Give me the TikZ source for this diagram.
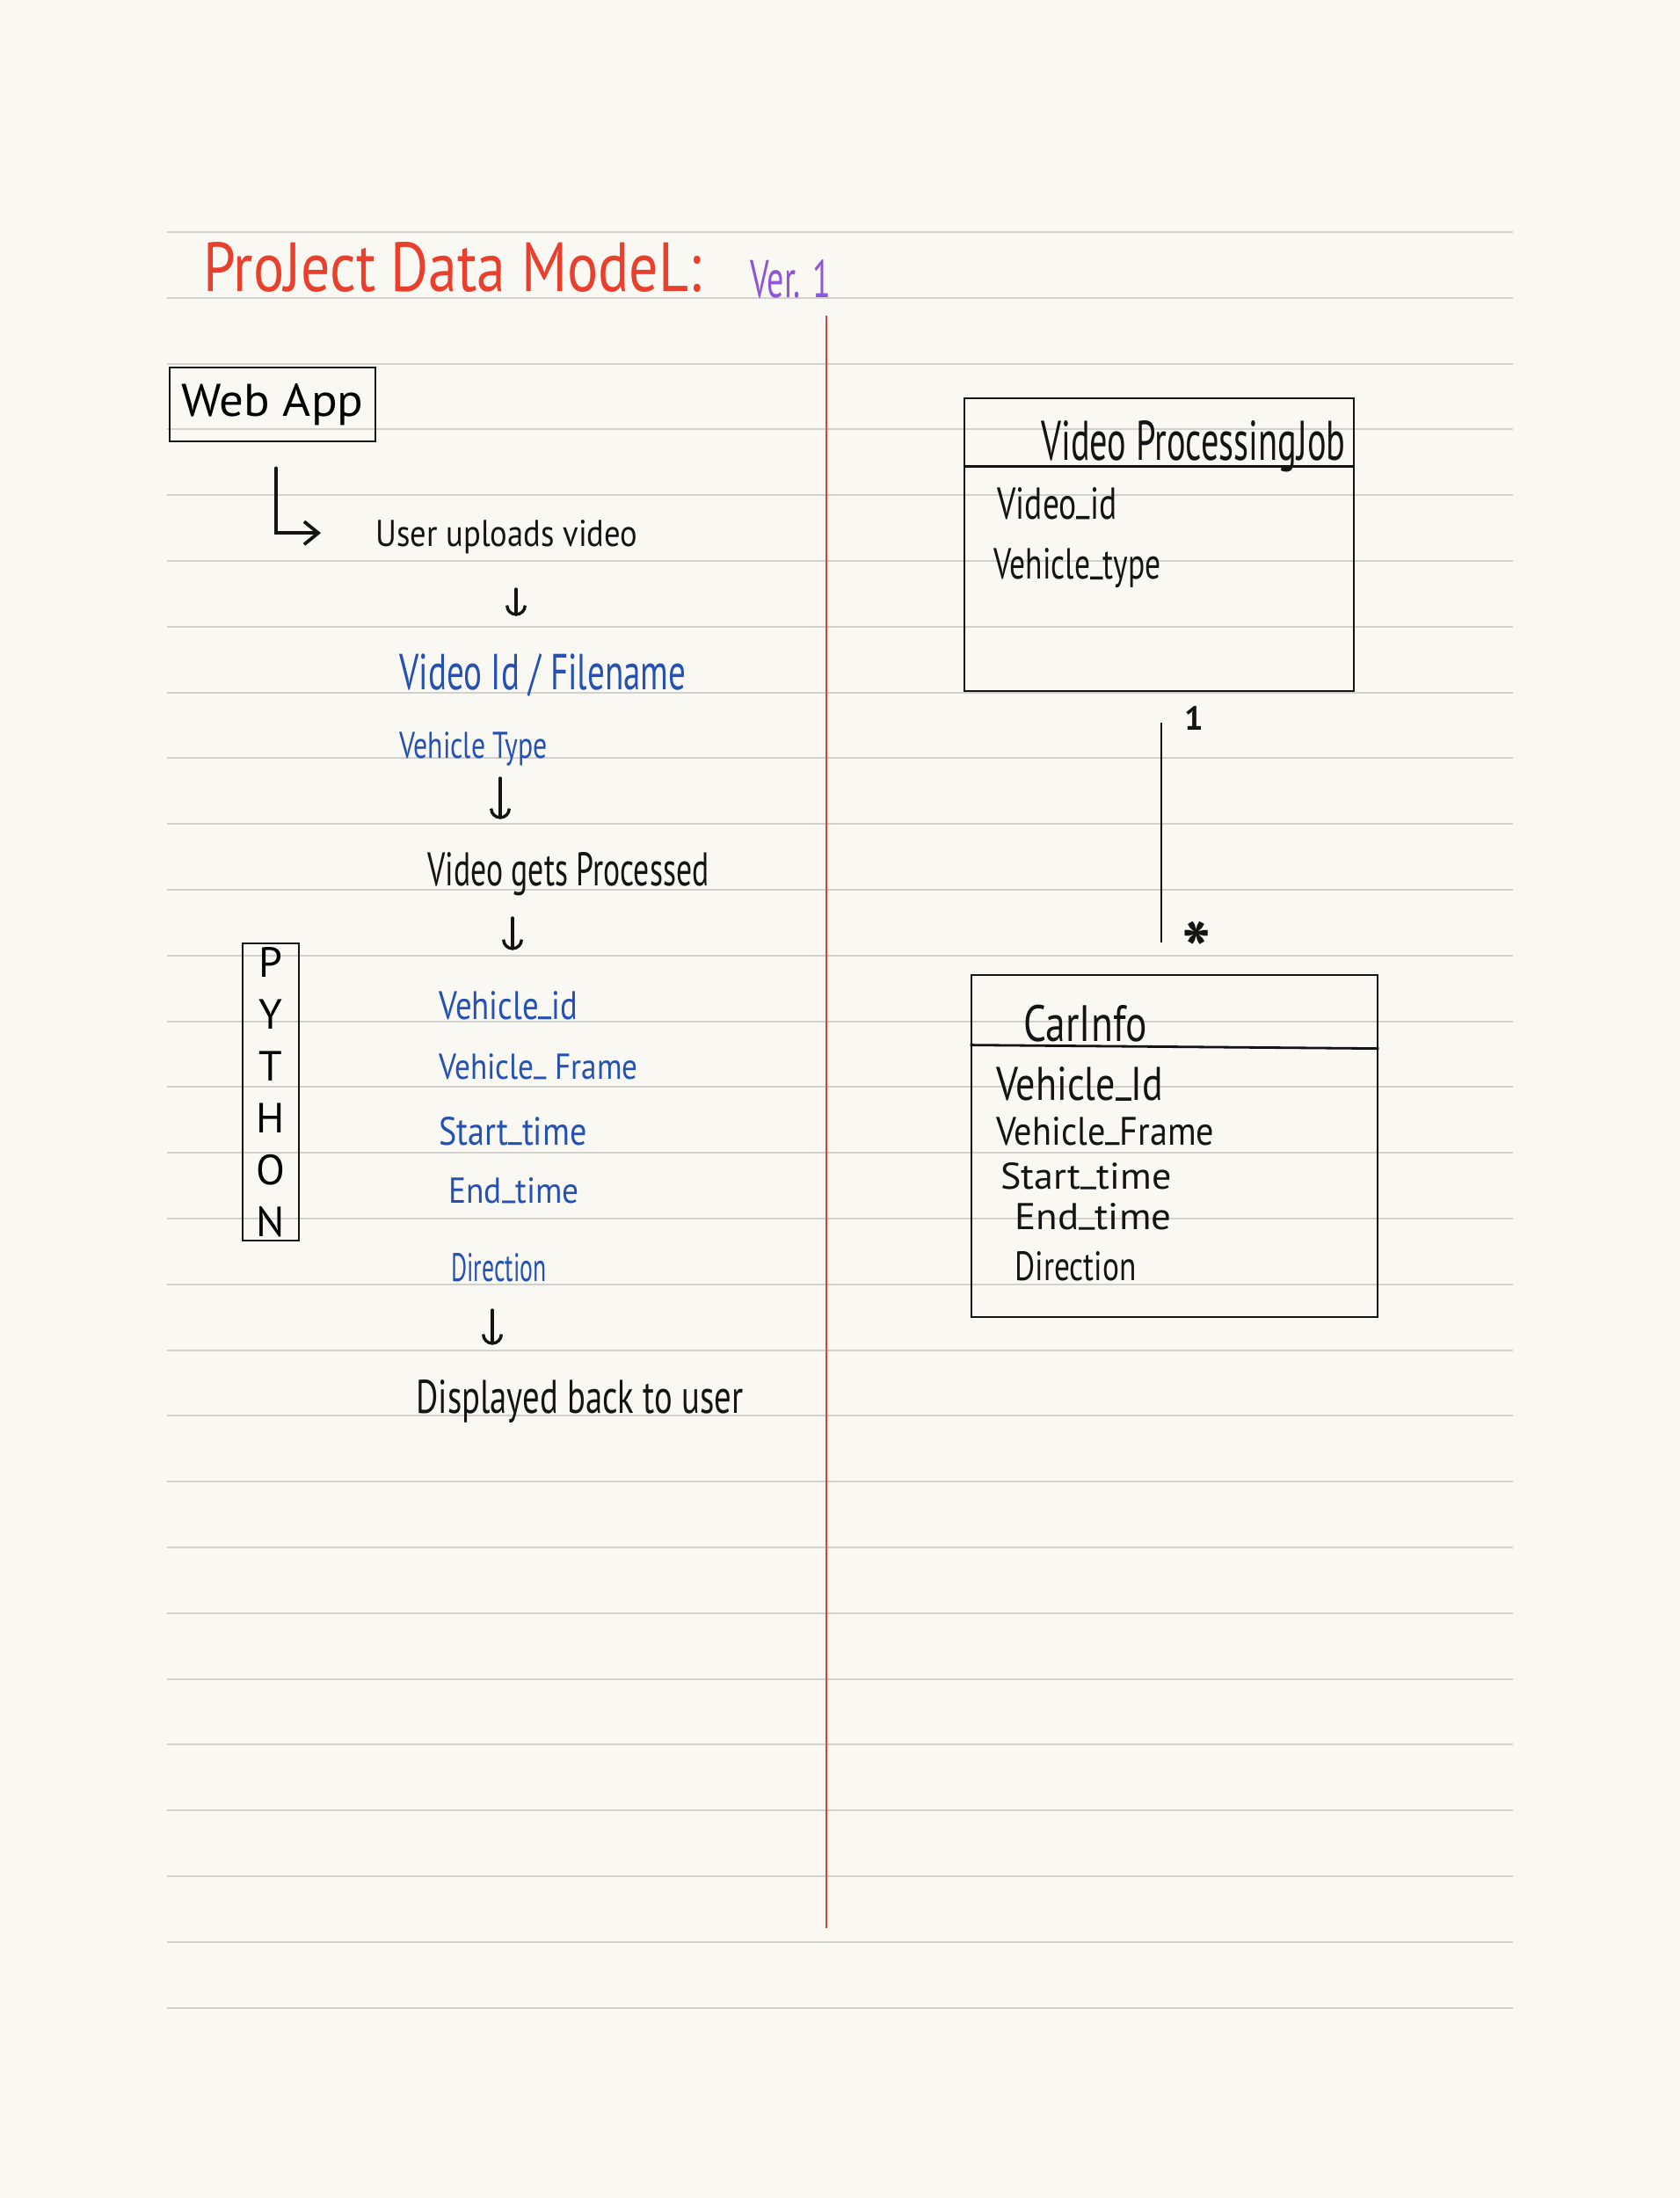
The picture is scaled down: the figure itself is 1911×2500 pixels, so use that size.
\documentclass[tikz,border=0pt]{standalone}
\usepackage{fontspec}
\setmainfont{PT Sans}
\usepackage{graphicx}
\usetikzlibrary{arrows.meta,calc}

\definecolor{paper}{HTML}{FAF8F3}
\definecolor{rulegray}{HTML}{D3D1CC}
\definecolor{marginred}{HTML}{D9473C}
\definecolor{ink}{HTML}{141414}
\definecolor{titlered}{HTML}{E8402D}
\definecolor{verpurple}{HTML}{8C58D8}
\definecolor{noteblue}{HTML}{2451B2}

% text squeezed into a given width and height (above the baseline)
\newcommand{\hw}[3]{\resizebox{#1}{#2}{#3}}
% underscore sitting close to the baseline
\newcommand{\us}{\raisebox{0.18em}{\_}}

\begin{document}
\begin{tikzpicture}[x=0.5pt,y=-0.5pt,
  txt/.style={inner sep=0pt, anchor=base west, text=ink},
  notetxt/.style={txt, text=noteblue},
  box/.style={draw=ink, line width=1.4pt, inner sep=0pt},
  flow/.style={draw=ink, line width=1.7pt, line cap=round,
    -{Arc Barb[length=6pt,width=12pt]}},
  lnk/.style={draw=ink, line width=1.4pt},
]
% paper
\fill[paper] (0,0) rectangle (1911,2500);
\useasboundingbox (0,0) rectangle (1911,2500);
\foreach \k in {0,...,27}
  \draw[rulegray, line width=1pt] (190,{264+74.8*\k}) -- (1721,{264+74.8*\k});
\draw[marginred, line width=1pt] (940,359) -- (940,2193);

% heading
\node[txt, text=titlered] (title) at (231,331) {\hw{283pt}{28pt}{ProJect Data ModeL:}};
\node[txt, text=verpurple] (ver) at (853,338) {\hw{46pt}{21.5pt}{Ver. 1}};

% left column: flow of the web app
\node[box, minimum width=117pt, minimum height=42pt] (webapp) at (310,460)
  {\hw{103.5pt}{18.5pt}{Web App}};

\node[txt] (upload) at (427,621) {\hw{149pt}{15pt}{User uploads video}};
\node[notetxt] (vidid) at (454,784) {\hw{163pt}{20.5pt}{Video Id / Filename}};
\node[notetxt] (vtype) at (454,862) {\hw{84pt}{15pt}{Vehicle Type}};
\node[txt] (processed) at (486,1007) {\hw{160pt}{19pt}{Video gets Processed}};
\node[notetxt] (vehid) at (499,1159) {\hw{79pt}{16pt}{Vehicle\us id}};
\node[notetxt] (vframe) at (499,1227) {\hw{113pt}{14.5pt}{Vehicle\us\ Frame}};
\node[notetxt] (vstart) at (499,1302) {\hw{84pt}{16pt}{Start\us time}};
\node[notetxt] (vend) at (510,1368) {\hw{74pt}{14.5pt}{End\us time}};
\node[notetxt] (vdir) at (513,1457) {\hw{54pt}{16pt}{Direction}};
\node[txt] (displayed) at (473,1607) {\hw{186pt}{19pt}{Displayed back to user}};

\node[box, minimum width=32pt, minimum height=169pt, align=center,
      font=\fontsize{24}{29.5}\selectfont] (python) at (308,1242)
  {P\\Y\\T\\H\\O\\N};

% arrows of the flow
\draw[ink, line width=1.9pt, line cap=round,
      -{Straight Barb[length=8pt,width=13pt]}]
  ($(webapp.south)+(4,29)$) |- ($(upload.west)+(-62,-4)$);
\coordinate (a1) at (587,0);
\coordinate (a2) at (569,0);
\coordinate (a3) at (583,0);
\coordinate (a4) at (560,0);
\draw[flow, shorten <=24.5pt, shorten >=21pt] (upload.base -| a1) -- (vidid.north -| a1);
\draw[flow, shorten <=11.5pt, shorten >=18.5pt] (vtype.base -| a2) -- (processed.north -| a2);
\draw[flow, shorten <=18.5pt, shorten >=23pt] (processed.base -| a3) -- (vehid.north -| a3);
\draw[flow, shorten <=16.5pt, shorten >=19.5pt] (vdir.base -| a4) -- (displayed.north -| a4);

% right column: data model
\node[box, minimum width=221.5pt, minimum height=166.5pt] (vpj) at (1318.5,619.5) {};
\draw[lnk] ($(vpj.north west)+(0,79)$) -- ($(vpj.north east)+(0,79)$);
\node[txt] (vpjtitle) at (1184,523) {\hw{173pt}{22.5pt}{Video ProcessingJob}};
\node[txt] (vpjid) at (1134,590) {\hw{68pt}{18pt}{Video\us id}};
\node[txt] (vpjtype) at (1130,658) {\hw{95pt}{17.5pt}{Vehicle\us type}};

\node[box, minimum width=231pt, minimum height=194.5pt] (carinfo) at (1336,1303.5) {};
\draw[lnk] ($(carinfo.north west)+(0,81)$) -- ($(carinfo.north east)+(0,85)$);
\node[txt] (cititle) at (1164,1184) {\hw{70pt}{20.7pt}{CarInfo}};
\node[txt] (ciid) at (1133,1251) {\hw{95pt}{19pt}{Vehicle\us Id}};
\node[txt] (ciframe) at (1133,1302) {\hw{124pt}{16pt}{Vehicle\us Frame}};
\node[txt] (cistart) at (1138,1352) {\hw{97pt}{15pt}{Start\us time}};
\node[txt] (ciend) at (1154,1398) {\hw{89pt}{15pt}{End\us time}};
\node[txt] (cidir) at (1154,1456) {\hw{69pt}{16.5pt}{Direction}};

% one-to-many association
\coordinate (conn) at (1321,0);
\draw[lnk, shorten <=17.5pt, shorten >=18pt] (vpj.south -| conn) -- (carinfo.north -| conn);
\node[txt, font=\fontsize{19}{20}\selectfont\bfseries] (one) at (1347,830) {1};
\node[inner sep=0pt, text=ink, font=\fontsize{44}{44}\selectfont\bfseries] (many) at (1361,1080) {*};
\end{tikzpicture}
\end{document}
